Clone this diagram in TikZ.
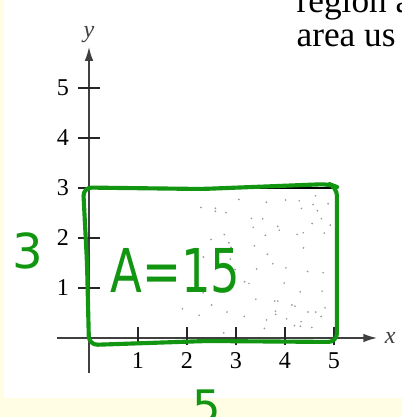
\documentclass[tikz,border=0pt]{standalone}
\usepackage{fontspec}
\setmainfont{Liberation Serif}
\newfontfamily\handfont{DejaVu Sans}
\usetikzlibrary{arrows.meta,positioning}
\definecolor{cream}{RGB}{255,253,228}
\definecolor{marker}{RGB}{18,150,18}
\tikzset{
  axis/.style = {black!75, line width=0.9pt},
  tickmark/.style = {black!85, line width=0.9pt},
  ticklabel/.style = {font=\fontsize{14}{14}\selectfont},
  ink/.style = {draw=marker, line width=2.4pt, line cap=round, line join=round},
  inktext/.style = {text=marker, font=\handfont\fontsize{#1}{#1}\selectfont},
  booktext/.style = {anchor=base west, inner sep=0pt, font=\fontsize{20.5}{20.5}\selectfont}
}

\begin{document}
\begin{tikzpicture}[x=1cm, y=1.0204cm]
  \useasboundingbox (-1.816,-1.58) rectangle (6.388,6.76);
  \fill[cream] (-1.816,-1.58) rectangle (6.388,6.76);
  \fill[white] (-1.735,-1.2) rectangle (6.388,6.76);

  % stippled region
  \pgfmathsetseed{7}
  \foreach \i in {1,...,70}{
    \pgfmathsetmacro\px{1.7+3.25*sqrt(rnd)}
    \pgfmathsetmacro\py{0.05+2.8*rnd}
    \fill[black!40] (\px,\py) circle (0.55pt);
  }

  % axes
  \coordinate (o) at (0,0);
  \draw[axis,-{Latex[length=8pt,width=5pt]}] (0,-0.7) -- (0,5.82)
    node[above=1pt, inner sep=1pt, ticklabel] (ylab) {\textit{y}};
  \draw[axis,-{Latex[length=8pt,width=5pt]}] (-0.65,0) -- (5.88,0)
    node[right=3pt, inner sep=1pt, ticklabel] (xlab) {\textit{x}};

  \foreach \i in {1,...,5}{
    \draw[tickmark] (\i,-0.15) -- (\i,0.22);
    \node[ticklabel] (xt\i) at (\i,-0.45) {\i};
    \draw[tickmark] (-0.22,\i) -- (0.22,\i);
    \node[ticklabel] (yt\i) at (-0.53,\i) {\i};
  }

  % top edge of the region
  \draw[black, line width=1.2pt] (0,3) -- (5,3);

  % hand annotations
  \draw[ink, rounded corners=5pt] (-0.12,3.01) -- (2.3,2.98) -- (4.9,3.08)
    -- (5.06,3.02) -- (5.06,-0.08) -- (2.4,-0.06) -- (0.0,-0.14)
    -- (-0.04,1.5) -- cycle;
  \node[inktext=28] (hgt) at (-1.25,1.74) {3};
  \node[inktext=27, yscale=1.3, transform shape] (area) at (1.76,1.34) {A=15};

  \begin{scope}
    \clip (-1.816,-1.58) rectangle (6.388,6.76);
    \node[inktext=26] (wid) at (2.41,-1.36) {5};
    \node[booktext] (line1) at (4.23,6.5) {region a};
    \node[booktext] (line2) at (4.23,5.82) {area us};
  \end{scope}
\end{tikzpicture}
\end{document}
